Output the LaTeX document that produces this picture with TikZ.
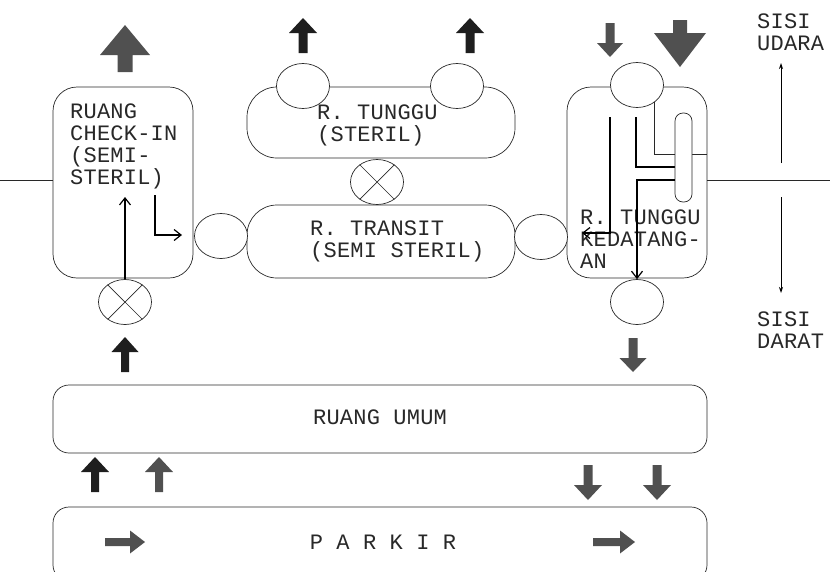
\documentclass[tikz,border=0pt]{standalone}
\usepackage{fontspec}
\newfontfamily\cadfont{Liberation Mono}[LetterSpace=1]
\usetikzlibrary{arrows.meta, shapes.geometric}
\definecolor{blkdark}{RGB}{30, 30, 30}
\definecolor{blkgray}{RGB}{80, 80, 80}
\definecolor{linegray}{RGB}{40, 40, 40}
% block arrow: fill, tail, angle, length, shaft, head width, head length
\newcommand{\blockarrow}[7]{%
	\fill[#1, shift={#2}, rotate=#3]
		(0,{-#5/2}) -- ({#4-#7},{-#5/2}) -- ({#4-#7},{-#6/2}) -- (#4,0)
		-- ({#4-#7},{#6/2}) -- ({#4-#7},{#5/2}) -- (0,{#5/2}) -- cycle;}

\begin{document}
\begin{tikzpicture}[x=1pt, y=-1pt,
				room/.style={draw=linegray, line width=0.7pt, fill=white,
					rounded corners=#1, inner sep=0pt},
				room/.default=24pt,
				door/.style={ellipse, draw=linegray, line width=0.7pt, fill=white,
					minimum width=53pt, minimum height=45pt, inner sep=0pt},
				pill/.style={draw=linegray, line width=0.7pt, fill=white,
					rounded corners=8pt, minimum width=17pt, minimum height=89pt, inner sep=0pt},
				lbl/.style={font=\cadfont\fontsize{22}{22}\selectfont, text=linegray,
					align=left, inner sep=0pt, anchor=west},
				thinln/.style={linegray, line width=0.7pt},
				flow/.style={black, line width=1.2pt},
				flowarr/.style={flow, -{Straight Barb[length=7pt, width=11pt]}},
				sidearr/.style={black, line width=0.9pt, -{Stealth[length=6pt, width=4pt]}}
				]
				\useasboundingbox (0,0) rectangle (830,571);
				% rooms
				\node[room, minimum width=140pt, minimum height=191pt] (checkin) at (123,182.5) {};
				\node[room=30pt, minimum width=268pt, minimum height=71pt] (tunggu) at (381,122.5) {};
				\node[room=30pt, minimum width=268pt, minimum height=73pt] (transit) at (381,241.5) {};
				\node[room, minimum width=140pt, minimum height=191pt] (kedatangan) at (637,182.5) {};
				\node[room=16pt, minimum width=654pt, minimum height=68pt] (umum) at (380,419) {};
				\node[room=16pt, minimum width=654pt, minimum height=74pt] (parkir) at (380,544) {};
				% room labels
				\node[lbl] (ciText) at (70,146) {RUANG\\CHECK-IN\\(SEMI-\\STERIL)};
				\node[lbl] (tgText) at (317,125) {R. TUNGGU\\(STERIL)};
				\node[lbl] (trText) at (310,241) {R. TRANSIT\\(SEMI STERIL)};
				\node[lbl] (kdText) at (580,239) {R. TUNGGU\\KEDATANG-\\AN};
				\node[lbl, anchor=center] (umText) at (380,417) {RUANG UMUM};
				\node[lbl, anchor=center] (pkText) at (383,542) {P A R K I R};
				% doors
				\node[door] (d1) at (221,236) {};
				\node[door] (d2) at (541,237) {};
				\node[door] (d3) at (303,86) {};
				\node[door] (d4) at (457,86) {};
				\node[door] (d5) at (637,85) {};
				\node[door] (d6) at (637,302) {};
				\node[door] (x1) at (125,302) {};
				\node[door] (x2) at (377,182) {};
				\draw[thinln] (x1.45) -- (x1.225) (x1.135) -- (x1.315);
				\draw[thinln] (x2.45) -- (x2.225) (x2.135) -- (x2.315);
				% border air side / land side
				\coordinate (axL) at (0,180);
				\coordinate (axR) at (830,180);
				\draw[thinln] (axL) -- (axL -| checkin.west);
				\draw[thinln] (kedatangan.east |- axR) -- (axR);
				\node[lbl] (udara) at (757,32) {SISI\\UDARA};
				\node[lbl] (darat) at (757,330) {SISI\\DARAT};
				\coordinate (udS) at (781,163);
				\coordinate (udT) at (781,63);
				\coordinate (daS) at (781,197);
				\coordinate (daT) at (781,293);
				\draw[sidearr] (udS) -- (udT);
				\draw[sidearr] (daS) -- (daT);
				% flow in check-in
				\coordinate (ciUp) at (125,197);
				\coordinate (ciL) at (155,195);
				\coordinate (ciR) at (182,235);
				\draw[flowarr] (x1.north) -- (ciUp);
				\draw[flowarr] (ciL) |- (ciR);
				% flow in arrival hall
				\coordinate (kA) at (707,154);
				\coordinate (kB) at (636,117);
				\coordinate (kBe) at (675,167);
				\coordinate (kD) at (610,117);
				\coordinate (kDe) at (582,233);
				\draw[thinln] (d5.315) |- (kA);
				\draw[flow] (kB) |- (kBe);
				\draw[flowarr] (kD) |- (kDe);
				\node[pill] (belt) at (683.5,157.5) {};
				\draw[flowarr] (belt.west |- axR) -| (d6.north);
				% block arrows
				\blockarrow{blkgray}{(125,72)}{90}{47}{15}{50}{30}
				\blockarrow{blkdark}{(303,53)}{90}{35}{9}{28}{15}
				\blockarrow{blkdark}{(470,53)}{90}{35}{9}{28}{15}
				\blockarrow{blkgray}{(610,23)}{-90}{34}{9}{26}{14}
				\blockarrow{blkgray}{(680,20)}{-90}{47}{14}{52}{34}
				\blockarrow{blkdark}{(125,372)}{90}{35}{8}{27}{15}
				\blockarrow{blkgray}{(633,338)}{-90}{34}{9}{27}{14}
				\blockarrow{blkdark}{(95,492)}{90}{35}{8}{28}{15}
				\blockarrow{blkgray}{(159,492)}{90}{35}{8}{28}{15}
				\blockarrow{blkgray}{(588,465)}{-90}{35}{9}{28}{15}
				\blockarrow{blkgray}{(657,465)}{-90}{35}{9}{28}{15}
				\blockarrow{blkgray}{(105,542)}{0}{40}{8}{23}{15}
				\blockarrow{blkgray}{(593,542)}{0}{42}{8}{23}{15}
			\end{tikzpicture}
\end{document}
